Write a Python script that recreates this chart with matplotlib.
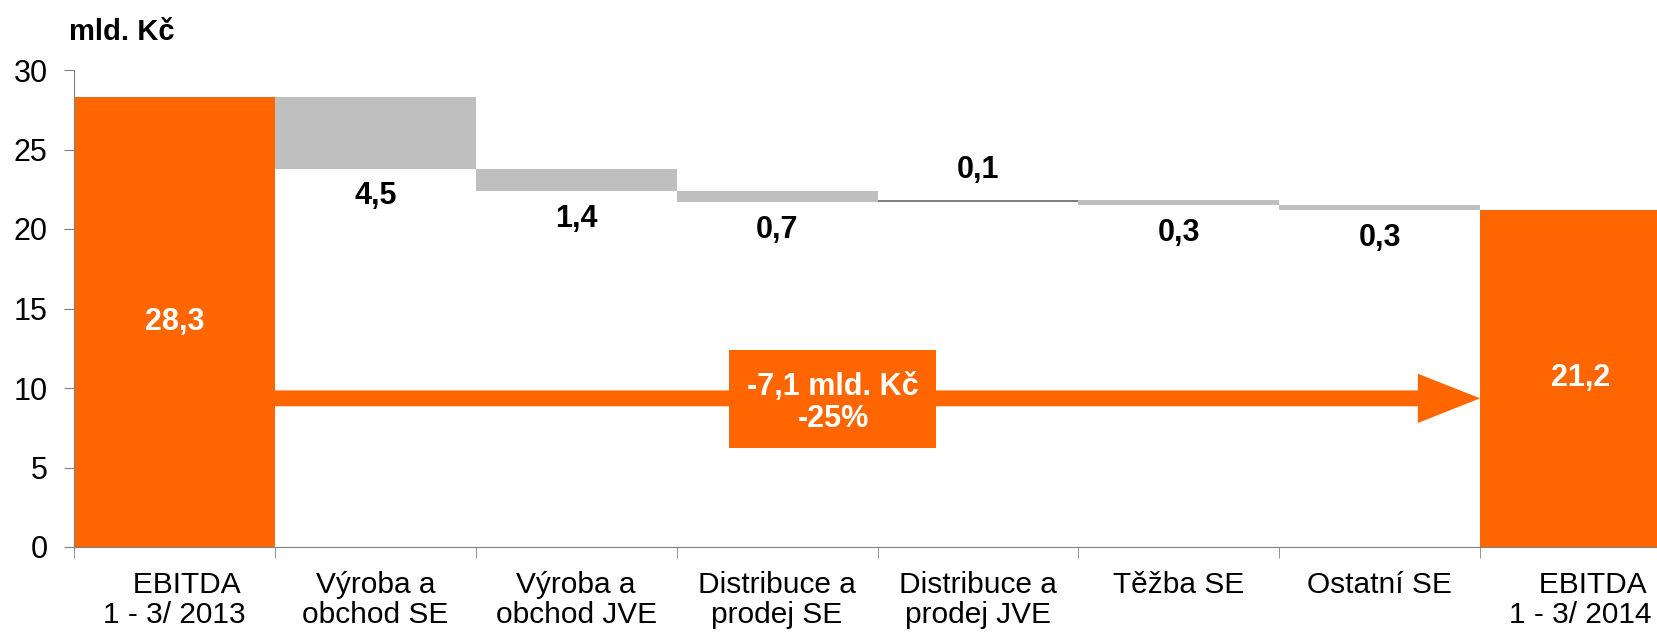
import numpy as np
import matplotlib
matplotlib.use("Agg")
import matplotlib.pyplot as plt
from matplotlib.patches import Rectangle, FancyArrow

plt.rcParams["font.family"] = ["Liberation Sans", "DejaVu Sans"]

categories = ["   EBITDA\n1 - 3/ 2013", "Výroba a\nobchod SE", "Výroba a\nobchod JVE",
              "Distribuce a\nprodej SE", "Distribuce a\nprodej JVE", "Těžba SE",
              "Ostatní SE", "   EBITDA\n1 - 3/ 2014"]
values = [28.3, -4.5, -1.4, -0.7, 0.1, -0.3, -0.3, 21.2]
labels = ["28,3", "4,5", "1,4", "0,7", "0,1", "0,3", "0,3", "21,2"]
change_text = "-7,1 mld. Kč\n-25%"

orange = "#FF6600"
grey = "#BFBFBF"
dark_grey = "#808080"

fig = plt.figure(figsize=(16.58, 6.34), dpi=100)
# axes runs past the right edge of the figure, like the original slide
ax = fig.add_axes([74/1658, 87/634, 1607/1658, 477/634])

x = np.arange(len(values))
level = values[0]
for i, v in enumerate(values):
    if i == 0 or i == len(values) - 1:
        ax.bar(x[i], v, width=1.0, color=orange, linewidth=0)
        ax.text(x[i], v/2, labels[i], ha="center", va="center", color="white",
                fontsize=22, fontweight="bold")
        continue
    bottom = level if v > 0 else level + v
    ax.bar(x[i], abs(v), bottom=bottom, width=1.0,
           color=dark_grey if v > 0 else grey, linewidth=0)
    if v > 0:
        ax.annotate(labels[i], (x[i], level + v), xytext=(0, 22), textcoords="offset points",
                    ha="center", va="center", fontsize=22, fontweight="bold")
    else:
        ax.annotate(labels[i], (x[i], level + v), xytext=(0, -20), textcoords="offset points",
                    ha="center", va="center", fontsize=22, fontweight="bold")
    level += v

# big arrow from the first total to the last
ax.add_patch(FancyArrow(0.5, 9.35, 6.0, 0, width=1.0, head_width=3.1, head_length=0.31,
                        length_includes_head=True, color=orange, linewidth=0))
ax.add_patch(Rectangle((2.76, 6.2), 1.03, 6.17, color=orange, linewidth=0))
ax.text(3.28, 9.05, change_text, ha="center", va="center", color="white",
        fontsize=22, fontweight="bold", linespacing=1.12)

ax.set_xlim(-0.5, 7.5)
ax.set_ylim(0, 30)
ax.set_yticks(range(0, 31, 5))
ax.set_xticks(x)
ax.set_xticklabels(categories, fontsize=21.5, linespacing=1.1)
ax.set_xticks(np.arange(-0.5, 8, 1), minor=True)
ax.tick_params(axis="x", which="major", length=0, pad=17)
ax.tick_params(axis="x", which="minor", length=8, color=dark_grey)
ax.tick_params(axis="y", labelsize=22, length=7, color=dark_grey, pad=12)
for s in ["top", "right"]:
    ax.spines[s].set_visible(False)
for s in ["left", "bottom"]:
    ax.spines[s].set_color(dark_grey)

fig.text(69/1658, 1 - 32/634, "mld. Kč", fontsize=21, fontweight="bold", va="center")

plt.savefig("out.png", dpi=100)
